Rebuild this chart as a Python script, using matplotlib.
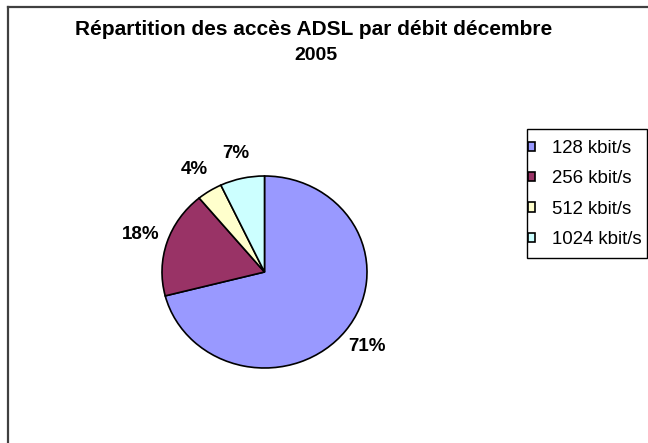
import matplotlib.pyplot as plt
from matplotlib.lines import Line2D
from matplotlib.patches import Rectangle

plt.rcParams['font.family'] = ['Liberation Sans', 'DejaVu Sans']

TITLE = "Répartition des accès ADSL par débit décembre\n2005"
labels = ['128 kbit/s', '256 kbit/s', '512 kbit/s', '1024 kbit/s']
shares = [71, 18, 4, 7]
colors = ['#9999FF', '#993366', '#FFFFCC', '#CCFFFF']

W, H = 648, 443
fig = plt.figure(figsize=(W / 100, H / 100), dpi=100)

# pie centre and radii in pixels (slightly wider than tall, like the original)
cx, cy, rx, ry = 264.5, 272, 102.5, 96
lim = 1.4
ax = fig.add_axes([(cx - lim * rx) / W, (H - cy - lim * ry) / H,
                   2 * lim * rx / W, 2 * lim * ry / H])
wedges, texts, autotexts = ax.pie(
    shares, colors=colors, startangle=90, counterclock=False,
    autopct='%d%%', pctdistance=1.27,
    wedgeprops=dict(edgecolor='black', linewidth=1.2),
    textprops=dict(fontsize=13.5, fontweight='bold'))
ax.set_xlim(-lim, lim)
ax.set_ylim(-lim, lim)
ax.set_aspect('auto')
ax.axis('off')

# title: Excel spreads the first line a bit wider
line1, line2 = TITLE.split('\n')
fig.text(314 / W, 1 - 35 / H, line1, ha='center', va='baseline',
         fontsize=15, fontweight='bold')
fig.text(316 / W, 1 - 60 / H, line2, ha='center', va='baseline',
         fontsize=14, fontweight='bold')

leg = fig.legend(wedges, labels, loc='upper left',
                 bbox_to_anchor=(528 / W, 1 - 140 / H),
                 fontsize=13.4, frameon=False,
                 handlelength=0.4, handleheight=0.4, handletextpad=0.9,
                 labelspacing=0.72, borderpad=0, borderaxespad=0)
fig.add_artist(Rectangle((527 / W, 1 - 258 / H), 120 / W, 129 / H,
                         transform=fig.transFigure, fill=False,
                         edgecolor='black', linewidth=1))

# chart area border (only left and top visible in the original)
fig.add_artist(Line2D([8 / W, 8 / W], [0, 1 - 7 / H], color='#404040', lw=1.6))
fig.add_artist(Line2D([8 / W, 1], [1 - 7 / H, 1 - 7 / H], color='#404040', lw=1.6))

fig.savefig('out.png', dpi=100)
